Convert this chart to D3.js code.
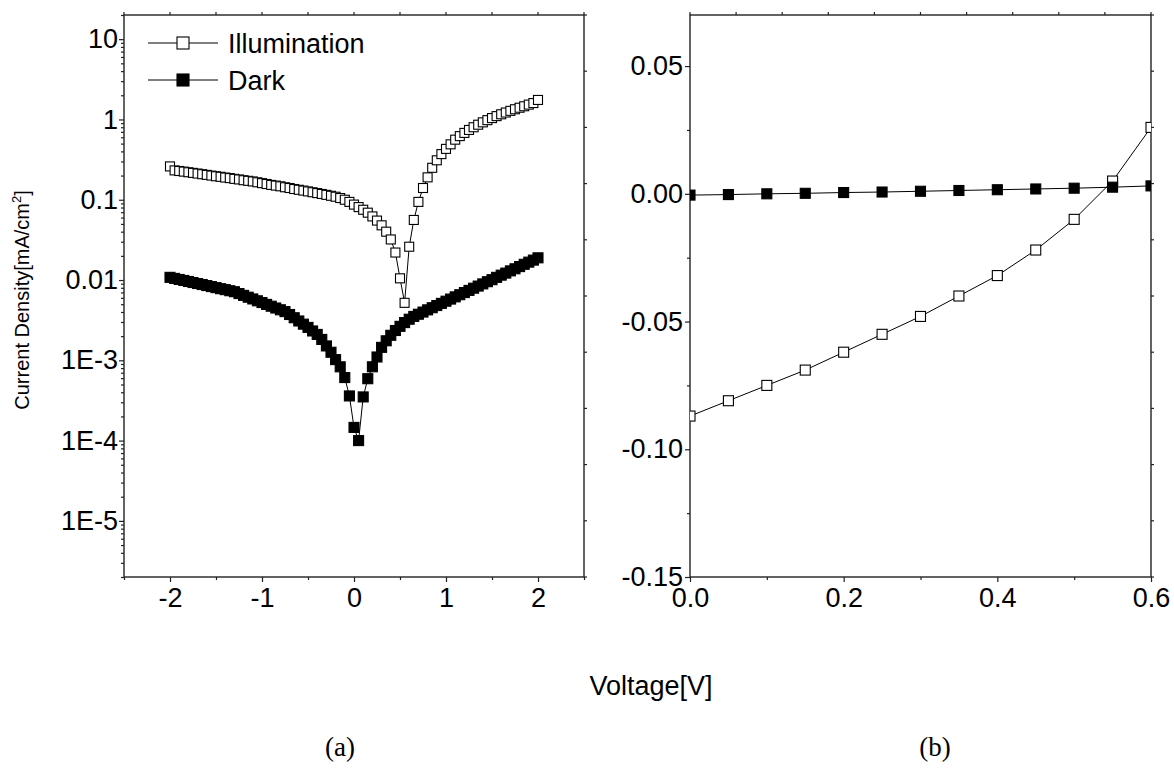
<!DOCTYPE html>
<html>
<head>
<meta charset="utf-8">
<script src="https://cdn.jsdelivr.net/npm/d3@7"></script>
<style>
  html, body { margin: 0; padding: 0; background: #fff; }
  svg { display: block; }
  text { font-family: "Liberation Sans", Arial, sans-serif; fill: #000; }
</style>
</head>
<body>
<svg id="chart" width="1174" height="771"></svg>
<script>
// ---------- DATA ----------
// Panel (a): voltage sweep -2 .. 2 V
const voltageA = [-2.0,-1.95,-1.9,-1.85,-1.8,-1.75,-1.7,-1.65,-1.6,-1.55,-1.5,-1.45,-1.4,-1.35,-1.3,-1.25,-1.2,-1.15,-1.1,-1.05,
  -1.0,-0.95,-0.9,-0.85,-0.8,-0.75,-0.7,-0.65,-0.6,-0.55,-0.5,-0.45,-0.4,-0.35,-0.3,-0.25,-0.2,-0.15,-0.1,-0.05,
  0.0,0.05,0.1,0.15,0.2,0.25,0.3,0.35,0.4,0.45,0.5,0.55,0.6,0.65,0.7,0.75,0.8,0.85,0.9,0.95,
  1.0,1.05,1.1,1.15,1.2,1.25,1.3,1.35,1.4,1.45,1.5,1.55,1.6,1.65,1.7,1.75,1.8,1.85,1.9,1.95,2.0];
// |J| under illumination (mA/cm^2)
const illumA = [0.26,0.232,0.228,0.224,0.220,0.216,0.212,0.208,0.204,0.200,0.196,0.193,0.189,0.186,0.182,0.179,0.175,0.172,0.169,0.165,
  0.161,0.157,0.153,0.150,0.147,0.143,0.140,0.136,0.133,0.130,0.127,0.124,0.121,0.118,0.115,0.112,0.109,0.105,0.100,0.094,
  0.087,0.081,0.075,0.069,0.062,0.055,0.048,0.040,0.032,0.022,0.0105,0.0052,0.026,0.056,0.094,0.14,0.19,0.25,0.31,0.37,
  0.43,0.49,0.56,0.62,0.68,0.74,0.80,0.86,0.92,0.98,1.04,1.10,1.16,1.22,1.28,1.34,1.40,1.46,1.53,1.60,1.75];
// |J| in the dark (mA/cm^2)
const darkA = [0.0108,0.01047,0.01016,0.00988,0.00959,0.00931,0.00904,0.00879,0.00853,0.00828,0.00804,0.0078,0.00759,0.00736,0.00715,0.00678,0.00644,0.00611,0.00581,0.00551,
  0.00524,0.00497,0.00472,0.00448,0.00426,0.00404,0.00372,0.00339,0.00309,0.00282,0.00257,0.00232,0.0021,0.00182,0.00151,0.00126,0.00102,0.00083,0.00061,0.00036,
  0.000146,0.0001,0.00035,0.00059,0.00083,0.0011,0.00145,0.00175,0.00205,0.00235,0.00265,0.00295,0.00325,0.00352,0.00375,0.00399,0.00425,0.00452,0.00481,0.00512,
  0.00545,0.00579,0.00617,0.00656,0.00698,0.00743,0.00791,0.00841,0.00895,0.00953,0.0101,0.0108,0.0115,0.0122,0.013,0.0138,0.0147,0.0157,0.0167,0.0177,0.0189];

// Panel (b): 0 .. 0.6 V, signed current density
const voltageB = [0.0,0.05,0.1,0.15,0.2,0.25,0.3,0.35,0.4,0.45,0.5,0.55,0.6];
const illumB = [-0.087,-0.081,-0.075,-0.069,-0.062,-0.055,-0.048,-0.040,-0.032,-0.022,-0.010,0.005,0.026];
const darkB  = [-0.0005,-0.0003,0.0,0.0002,0.0005,0.0007,0.0010,0.0013,0.0016,0.0019,0.0022,0.0026,0.0031];

// Tick values / labels
const xTicksA = [-2,-1,0,1,2];
const xMinorA = [-2.5,-1.5,-0.5,0.5,1.5,2.5];
const yTicksA = [1e-5,1e-4,1e-3,0.01,0.1,1,10];
const yLabelsA = ["1E-5","1E-4","1E-3","0.01","0.1","1","10"];
const xTicksB = [0,0.2,0.4,0.6];
const xLabelsB = ["0.0","0.2","0.4","0.6"];
const xMinorB = [0.1,0.3,0.5];
const yTicksB = [-0.15,-0.10,-0.05,0.00,0.05];
const yLabelsB = ["-0.15","-0.10","-0.05","0.00","0.05"];
const yMinorB = [-0.125,-0.075,-0.025,0.025];
const seriesNames = ["Illumination","Dark"];

// ---------- LAYOUT ----------
const svg = d3.select("#chart");
const A = {x0:124, x1:584, y0:15, y1:577};
const B = {x0:690, x1:1151, y0:15, y1:577};
const tickFont = 27;
const axisColor = "#222";

const xA = d3.scaleLinear().domain([-2.5,2.5]).range([A.x0,A.x1]);
const yA = d3.scaleLog().domain([2e-6,20]).range([A.y1,A.y0]);
const xB = d3.scaleLinear().domain([0,0.6]).range([B.x0,B.x1]);
const yB = d3.scaleLinear().domain([-0.15,0.07]).range([B.y1,B.y0]);

function styleAxis(g){
  g.select(".domain").remove();
  g.selectAll(".tick line").attr("stroke",axisColor).attr("stroke-width",1.2);
  g.selectAll(".tick text").style("font-size",tickFont+"px").attr("fill","#000");
}

function frame(P){
  svg.append("rect").attr("x",P.x0).attr("y",P.y0).attr("width",P.x1-P.x0).attr("height",P.y1-P.y0)
    .attr("fill","none").attr("stroke",axisColor).attr("stroke-width",1.4);
  const lin = d3.range(0,11);
  svg.append("g").selectAll("line").data(lin).join("line")
    .attr("x1",i=>P.x0+(P.x1-P.x0)*i/10).attr("x2",i=>P.x0+(P.x1-P.x0)*i/10)
    .attr("y1",P.y0).attr("y2",P.y0-3).attr("stroke",axisColor).attr("stroke-width",1.2);
  svg.append("g").selectAll("line").data(lin).join("line")
    .attr("y1",i=>P.y0+(P.y1-P.y0)*i/10).attr("y2",i=>P.y0+(P.y1-P.y0)*i/10)
    .attr("x1",P.x1).attr("x2",P.x1+3).attr("stroke",axisColor).attr("stroke-width",1.2);
}

// ---------- PANEL A ----------
frame(A);
svg.append("g").attr("transform",`translate(0,${A.y1})`)
  .call(d3.axisBottom(xA).tickValues(xTicksA).tickSize(5).tickPadding(6).tickFormat(d=>d3.format("d")(d).replace("−","-")))
  .call(styleAxis);
svg.append("g").attr("transform",`translate(0,${A.y1})`)
  .call(d3.axisBottom(xA).tickValues(xMinorA).tickSize(3).tickFormat(""))
  .call(styleAxis);
svg.append("g").attr("transform",`translate(${A.x0},0)`)
  .call(d3.axisLeft(yA).tickValues(yTicksA).tickSize(5).tickPadding(1).tickFormat((d,i)=>yLabelsA[i]))
  .call(styleAxis);
const minorLog = [];
[1e-6,1e-5,1e-4,1e-3,1e-2,1e-1,1,10].forEach(dec=>{
  for (let m=2;m<=9;m++){ const v=dec*m; if (v>=2e-6 && v<=20) minorLog.push(v); }
});
svg.append("g").attr("transform",`translate(${A.x0},0)`)
  .call(d3.axisLeft(yA).tickValues(minorLog).tickSize(3).tickFormat(""))
  .call(styleAxis);

const lineA = (vals)=>d3.line().x((d,i)=>xA(voltageA[i])).y(d=>yA(d))(vals);
const gA = svg.append("g");
gA.append("path").attr("d",lineA(illumA)).attr("fill","none").attr("stroke","#000").attr("stroke-width",1);
gA.append("path").attr("d",lineA(darkA)).attr("fill","none").attr("stroke","#000").attr("stroke-width",1);
const msA = 9, msDark = 10;
gA.append("g").selectAll("rect").data(illumA).join("rect")
  .attr("x",(d,i)=>xA(voltageA[i])-msA/2).attr("y",d=>yA(d)-msA/2)
  .attr("width",msA).attr("height",msA).attr("fill","#fff").attr("stroke","#000").attr("stroke-width",1.1);
gA.append("g").selectAll("rect").data(darkA).join("rect")
  .attr("x",(d,i)=>xA(voltageA[i])-msDark/2).attr("y",d=>yA(d)-msDark/2)
  .attr("width",msDark).attr("height",msDark).attr("fill","#000").attr("stroke","#000").attr("stroke-width",1.1);

// legend
const legY = [43,80];
seriesNames.forEach((name,i)=>{
  const g = svg.append("g");
  g.append("line").attr("x1",148).attr("x2",218).attr("y1",legY[i]).attr("y2",legY[i]).attr("stroke","#000").attr("stroke-width",1);
  g.append("rect").attr("x",183-6).attr("y",legY[i]-6).attr("width",12).attr("height",12)
    .attr("fill",i===0?"#fff":"#000").attr("stroke","#000").attr("stroke-width",1.1);
  g.append("text").attr("x",228).attr("y",legY[i]+10).style("font-size","27px").text(name);
});

// y title
const yt = svg.append("text").attr("transform","translate(29,300) rotate(-90)")
  .attr("text-anchor","middle").style("font-size","20px");
yt.append("tspan").text("Current Density[mA/cm");
yt.append("tspan").attr("dy",-8).style("font-size","13px").text("2");
yt.append("tspan").attr("dy",8).text("]");

// ---------- PANEL B ----------
frame(B);
svg.append("defs").append("clipPath").attr("id","clipB").append("rect")
  .attr("x",B.x0).attr("y",B.y0).attr("width",B.x1-B.x0).attr("height",B.y1-B.y0);
svg.append("g").attr("transform",`translate(0,${B.y1})`)
  .call(d3.axisBottom(xB).tickValues(xTicksB).tickSize(5).tickPadding(6).tickFormat((d,i)=>xLabelsB[i]))
  .call(styleAxis);
svg.append("g").attr("transform",`translate(0,${B.y1})`)
  .call(d3.axisBottom(xB).tickValues(xMinorB).tickSize(3).tickFormat(""))
  .call(styleAxis);
svg.append("g").attr("transform",`translate(${B.x0},0)`)
  .call(d3.axisLeft(yB).tickValues(yTicksB).tickSize(5).tickPadding(2).tickFormat((d,i)=>yLabelsB[i]))
  .call(styleAxis);
svg.append("g").attr("transform",`translate(${B.x0},0)`)
  .call(d3.axisLeft(yB).tickValues(yMinorB).tickSize(3).tickFormat(""))
  .call(styleAxis);

const gB = svg.append("g").attr("clip-path","url(#clipB)");
const lineB = (vals)=>d3.line().x((d,i)=>xB(voltageB[i])).y(d=>yB(d))(vals);
gB.append("path").attr("d",lineB(illumB)).attr("fill","none").attr("stroke","#000").attr("stroke-width",1);
gB.append("path").attr("d",lineB(darkB)).attr("fill","none").attr("stroke","#000").attr("stroke-width",1);
const msB = 10;
gB.append("g").selectAll("rect").data(illumB).join("rect")
  .attr("x",(d,i)=>xB(voltageB[i])-msB/2).attr("y",d=>yB(d)-msB/2)
  .attr("width",msB).attr("height",msB).attr("fill","#fff").attr("stroke","#000").attr("stroke-width",1.1);
gB.append("g").selectAll("rect").data(darkB).join("rect")
  .attr("x",(d,i)=>xB(voltageB[i])-msB/2).attr("y",d=>yB(d)-msB/2)
  .attr("width",msB).attr("height",msB).attr("fill","#000").attr("stroke","#000").attr("stroke-width",1.1);

// shared x title
svg.append("text").attr("x",651).attr("y",695).attr("text-anchor","middle").style("font-size","27px").text("Voltage[V]");

// panel labels
svg.append("text").attr("x",340).attr("y",756).attr("text-anchor","middle")
  .style("font-family","'Liberation Serif','Times New Roman',serif").style("font-size","27px").text("(a)");
svg.append("text").attr("x",935).attr("y",756).attr("text-anchor","middle")
  .style("font-family","'Liberation Serif','Times New Roman',serif").style("font-size","27px").text("(b)");
</script>
</body>
</html>
